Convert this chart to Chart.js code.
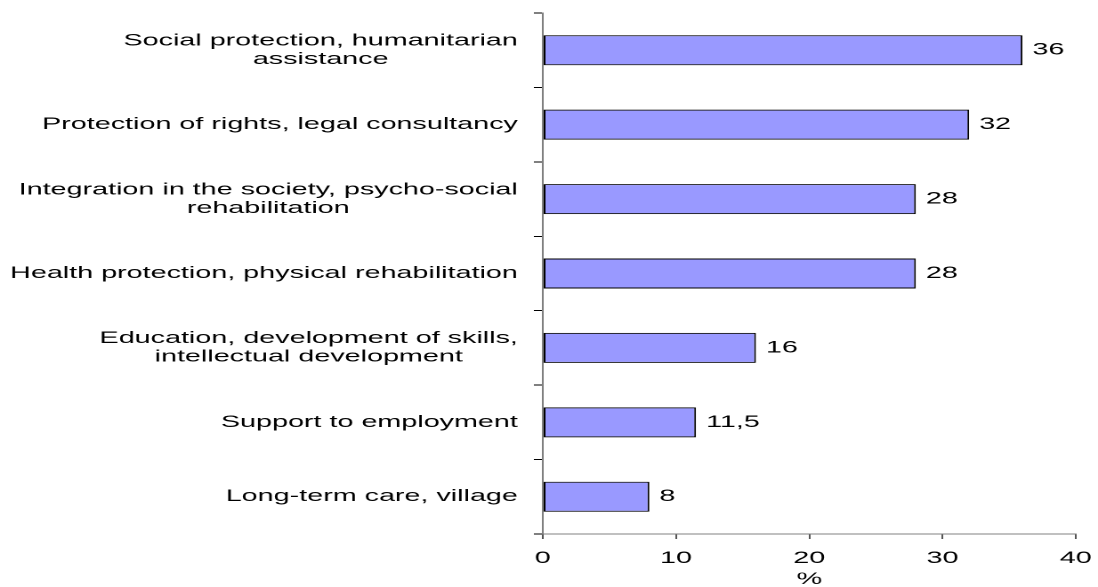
<!DOCTYPE html>
<html lang="en">

<head>
    <meta charset="UTF-8">
    <title>Areas of activity</title>
    <script src="https://cdn.jsdelivr.net/npm/chart.js"></script>
    <style>
        html, body { margin: 0; padding: 0; background: #fff; overflow: hidden; }
        /* the chart is drawn narrow and stretched sideways, like the wide original */
        .wrap { width: 617px; height: 587px; transform: scaleX(1.7796); transform-origin: 0 0; }
    </style>
</head>

<body>
    <div class="wrap">
        <canvas id="grafico" width="617" height="587"></canvas>
    </div>

    <script>
        // categories (multi-line labels) and percentages
        const categorias = [
            ['Social protection, humanitarian', 'assistance'],
            ['Protection of rights, legal consultancy'],
            ['Integration in the society, psycho-social', 'rehabilitation'],
            ['Health protection, physical rehabilitation'],
            ['Education, development of skills,', 'intellectual development'],
            ['Support to employment'],
            ['Long-term care, village']
        ];
        const valores = [36, 32, 28, 28, 16, 11.5, 8];
        const eixoX = { min: 0, max: 40, passo: 10, titulo: '%' };

        const fonte = '"Liberation Sans", Arial, sans-serif';
        const tamanho = 16.15;
        Chart.defaults.font.family = fonte;
        Chart.defaults.font.size = tamanho;
        Chart.defaults.color = '#000';

        // category labels (centred block, right edge against the axis) and the value after each bar
        const rotulos = {
            id: 'rotulos',
            afterDraw(chart) {
                const ctx = chart.ctx;
                const y = chart.scales.y;
                ctx.save();
                ctx.font = tamanho + 'px ' + fonte;
                ctx.fillStyle = '#000';
                ctx.textAlign = 'center';
                ctx.textBaseline = 'middle';
                const alt = 18.5;
                const direita = y.right - 5 - 9;
                categorias.forEach((linhas, i) => {
                    const py = y.getPixelForValue(i);
                    const larg = Math.max(...linhas.map(l => ctx.measureText(l).width));
                    const cx = direita - larg / 2;
                    const y0 = py - (linhas.length - 1) * alt / 2;
                    linhas.forEach((l, k) => ctx.fillText(l, cx, y0 + k * alt));
                });

                ctx.textAlign = 'left';
                chart.getDatasetMeta(0).data.forEach((barra, i) => {
                    const txt = String(valores[i]).replace('.', ',');
                    ctx.fillText(txt, barra.x + 5.6, barra.y);
                });
                ctx.restore();
            }
        };

        new Chart(document.getElementById('grafico'), {
            type: 'bar',
            data: {
                labels: categorias,
                datasets: [{
                    data: valores,
                    backgroundColor: '#9999FF',
                    borderColor: '#000',
                    borderWidth: 1,
                    borderSkipped: false,
                    barPercentage: 0.403,
                    categoryPercentage: 1
                }]
            },
            options: {
                indexAxis: 'y',
                responsive: false,
                devicePixelRatio: 2,
                animation: false,
                layout: { padding: { top: 13, right: 12.5, bottom: 0, left: 0 } },
                plugins: {
                    legend: { display: false },
                    tooltip: { enabled: false }
                },
                scales: {
                    x: {
                        min: eixoX.min,
                        max: eixoX.max,
                        afterFit: s => {
                            s.height = 53;
                            s.paddingLeft = 0;
                            s.paddingRight = 0;
                        },
                        ticks: { stepSize: eixoX.passo, padding: 10, color: '#000' },
                        grid: { drawOnChartArea: false, tickLength: 5, color: '#555' },
                        border: { color: '#808080' },
                        title: {
                            display: true, text: eixoX.titulo, color: '#000', padding: 0,
                            font: { lineHeight: 0.95 }
                        }
                    },
                    y: {
                        afterFit: s => { s.width = 305; },
                        ticks: { display: false },
                        grid: { drawOnChartArea: false, tickLength: 5, color: '#000', offset: true },
                        border: { color: '#808080' }
                    }
                }
            },
            plugins: [rotulos]
        });
    </script>
</body>

</html>
